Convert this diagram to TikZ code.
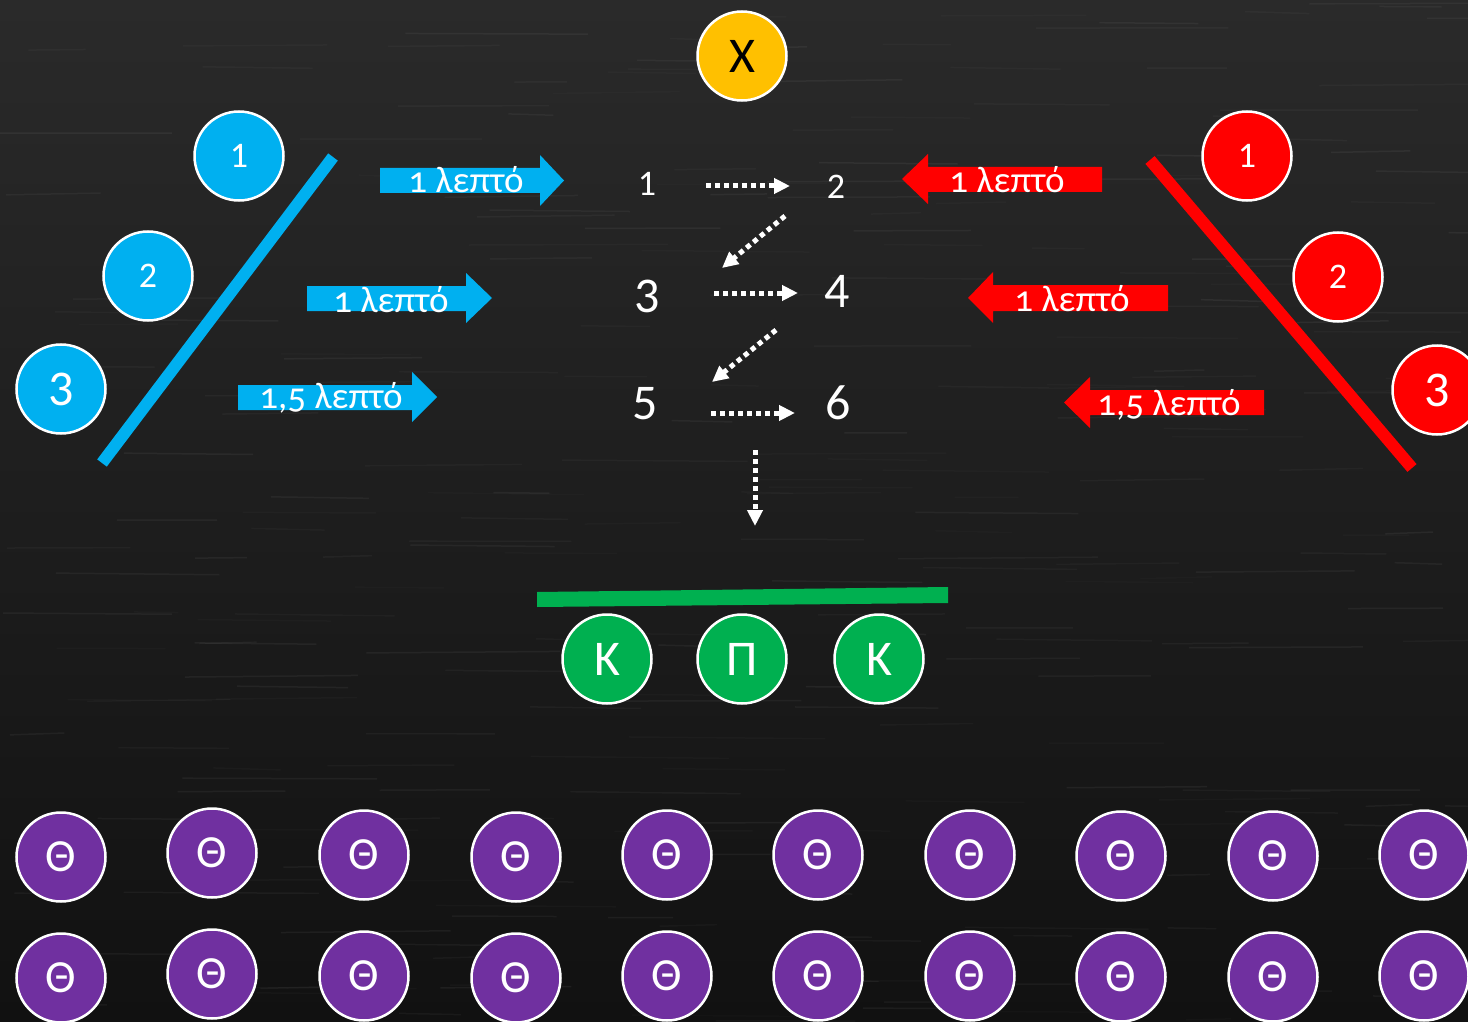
\documentclass[tikz,border=0pt]{standalone}
\usepackage{fontspec}
\setmainfont{Carlito}
\newfontfamily\lblfont[Numbers=OldStyle]{Carlito}
\usetikzlibrary{arrows.meta}
\definecolor{cblue}{HTML}{00B0F0}
\definecolor{cred}{HTML}{FF0000}
\definecolor{cyellow}{HTML}{FFC000}
\definecolor{cgreen}{HTML}{00B050}
\definecolor{cpurple}{HTML}{7030A0}
\definecolor{bgtop}{HTML}{2A2A2A}
\definecolor{bgbot}{HTML}{111111}
\begin{document}
\begin{tikzpicture}[x=1pt,y=-1pt,
  circ/.style={circle, draw=white, line width=2.5pt, minimum size=89pt, inner sep=0pt, text=white},
  small/.style={font=\fontsize{36}{40}\selectfont},
  big/.style={font=\fontsize{50}{56}\selectfont},
  theta/.style={circ, fill=cpurple, font=\fontsize{46}{50}\selectfont},
  lbl/.style={anchor=base, text=white, inner sep=0pt, font=\lblfont\fontsize{37}{40}\selectfont},
  num/.style={text=white, inner sep=0pt},
  dotarrow/.style={white, line width=5pt, dash pattern=on 5pt off 4pt, -{Triangle[length=16pt,width=15pt]}},
  bar/.style={line width=12pt}
]
\useasboundingbox (0,0) rectangle (1468,1022);
\shade[top color=bgtop, bottom color=bgbot] (0,0) rectangle (1468,1022);
\clip (0,0) rectangle (1468,1022);
\pgfmathsetseed{7}
\foreach \i in {1,...,260}{
  \pgfmathsetmacro{\xa}{rnd*1468}
  \pgfmathsetmacro{\ya}{rnd*1022}
  \pgfmathsetmacro{\ll}{40+rnd*160}
  \pgfmathsetmacro{\op}{0.015+rnd*0.04}
  \draw[white, opacity=\op, line width=1.5pt] (\xa,\ya) -- ++(\ll,rnd*4-2);
}

% top yellow
\node[circ, fill=cyellow, text=black, big] (x) at (742,56) {X};

% blue side
\node[circ, fill=cblue, small] (b1) at (239,156) {1};
\node[circ, fill=cblue, small] (b2) at (148,276) {2};
\node[circ, fill=cblue, big] (b3) at (61,389) {3};
\draw[cblue, bar] (333,157) -- (102,463);

\fill[cblue] (380,168) -- (540,168) -- (540,155) -- (564,180.5) -- (540,206) -- (540,193) -- (380,193) -- cycle;
\fill[cblue] (307,286) -- (466,286) -- (466,273) -- (492,298) -- (466,323) -- (466,311) -- (307,311) -- cycle;
\fill[cblue] (238,385) -- (412,385) -- (412,372) -- (437,397) -- (412,422) -- (412,410) -- (238,410) -- cycle;
\node[lbl] (bl1) at (466,193) {1 λεπτό};
\node[lbl] (bl2) at (391,312) {1 λεπτό};
\node[lbl] (bl3) at (331,408) {1,5 λεπτό};

% red side
\node[circ, fill=cred, small] (r1) at (1247,156) {1};
\node[circ, fill=cred, small] (r2) at (1338,277) {2};
\node[circ, fill=cred, big] (r3) at (1437,390) {3};
\draw[cred, bar] (1150,160) -- (1412,468);

\fill[cred] (1102,167) -- (928,167) -- (928,154) -- (902,179) -- (928,204) -- (928,192) -- (1102,192) -- cycle;
\fill[cred] (1168,285) -- (993,285) -- (993,272) -- (968,298) -- (993,323) -- (993,311) -- (1168,311) -- cycle;
\fill[cred] (1264,390) -- (1090,390) -- (1090,377) -- (1064,402.5) -- (1090,428) -- (1090,415) -- (1264,415) -- cycle;
\node[lbl] (rl1) at (1007,193) {1 λεπτό};
\node[lbl] (rl2) at (1072,311) {1 λεπτό};
\node[lbl] (rl3) at (1169,415) {1,5 λεπτό};

% center numbers
\node[num, small] (n1) at (647,184) {1};
\node[num, small] (n2) at (836,187) {2};
\node[num, big] (n3) at (647,296) {3};
\node[num, big] (n4) at (837,291) {4};
\node[num, big] (n5) at (645,404) {5};
\node[num, big] (n6) at (838,403) {6};

\coordinate (a12s) at (706,186); \coordinate (a12e) at (790,186);
\coordinate (a23s) at (785,216); \coordinate (a23e) at (722,268);
\coordinate (a34s) at (714,293); \coordinate (a34e) at (798,293);
\coordinate (a45s) at (776,330); \coordinate (a45e) at (712,382);
\coordinate (a56s) at (711,413); \coordinate (a56e) at (795,413);
\coordinate (adns) at (755,450); \coordinate (adne) at (755,526);
\draw[dotarrow] (a12s) -- (a12e);
\draw[dotarrow] (a23s) -- (a23e);
\draw[dotarrow] (a34s) -- (a34e);
\draw[dotarrow] (a45s) -- (a45e);
\draw[dotarrow] (a56s) -- (a56e);
\draw[dotarrow] (adns) -- (adne);

% green
\fill[cgreen] (537,592) -- (948,587) -- (948,603) -- (537,607) -- cycle;
\node[circ, fill=cgreen, big] (k1) at (607,659) {Κ};
\node[circ, fill=cgreen, big] (p) at (742,659) {Π};
\node[circ, fill=cgreen, big] (k2) at (879,659) {Κ};

% purple rows
\foreach \xx/\dy [count=\c] in {61/2, 212/-2, 364/0, 516/2, 667/0, 818/0, 970/0, 1121/1, 1273/1, 1424/0}{
  \node[theta] (ta\c) at (\xx,855+\dy) {Θ};
  \node[theta] (tb\c) at (\xx,976+\dy) {Θ};
}
\end{tikzpicture}
\end{document}
